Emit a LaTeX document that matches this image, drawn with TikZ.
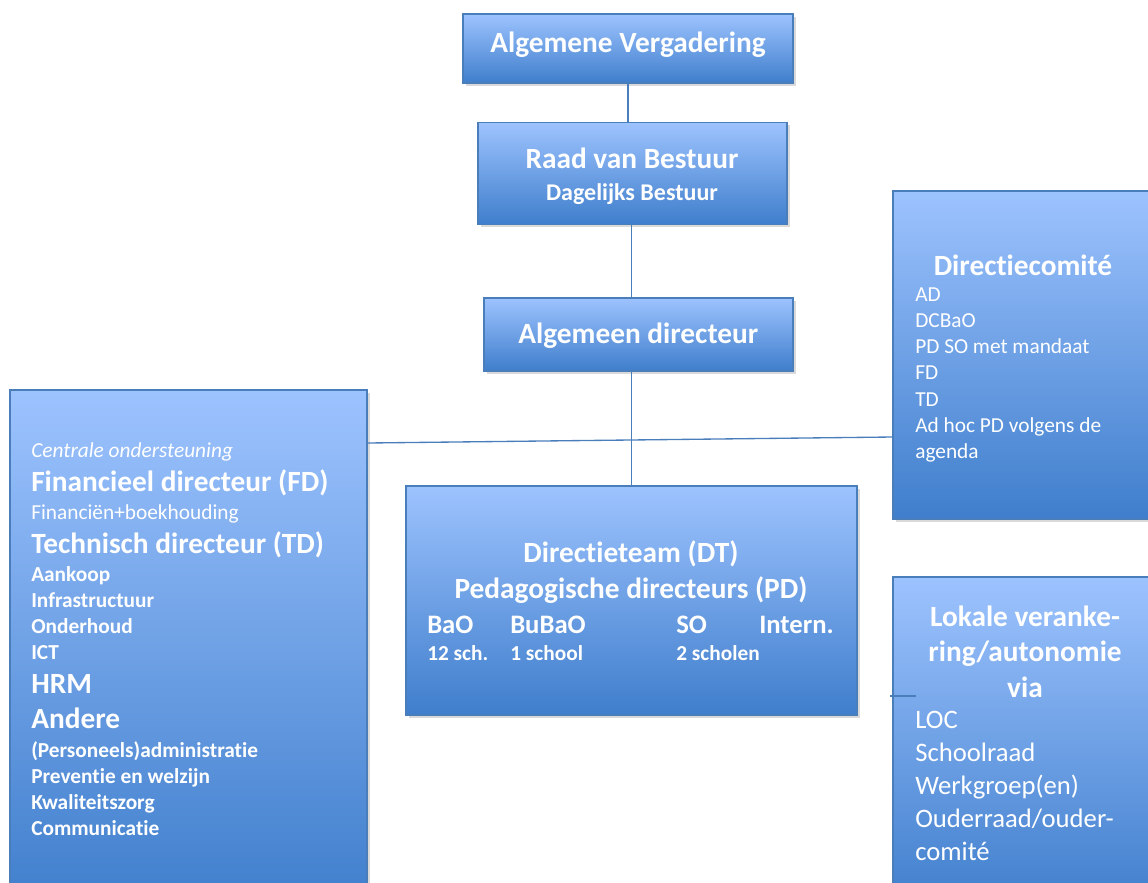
\documentclass[tikz,border=0pt]{standalone}
\usepackage{fontspec}
\setmainfont{Carlito}[Ligatures=NoCommon]
\usetikzlibrary{positioning,shadows}
\definecolor{boxtop}{HTML}{9DC3FE}
\definecolor{boxbot}{HTML}{3F7ECC}
\definecolor{boxline}{HTML}{4A7EBB}
\tikzset{
  orgbox/.style 2 args={draw=boxline, line width=0.8pt, top color=boxtop, bottom color=boxbot,
    minimum width=#1*0.75pt, minimum height=#2*0.75pt, inner sep=0pt,
    drop shadow={shadow xshift=2pt, shadow yshift=-2pt, opacity=0.3}},
  link/.style={draw=boxline, line width=1pt},
  big/.style={text=white, inner sep=0pt, font=\bfseries\fontsize{22}{26}\selectfont},
  mid/.style={text=white, inner sep=0pt, font=\bfseries\fontsize{20}{24}\selectfont},
  sub/.style={text=white, inner sep=0pt, font=\bfseries\fontsize{16}{19}\selectfont},
  subb/.style={text=white, inner sep=0pt, font=\bfseries\fontsize{18}{22}\selectfont},
  txt/.style={text=white, inner sep=0pt, font=\fontsize{16}{19}\selectfont},
  ital/.style={text=white, inner sep=0pt, font=\itshape\fontsize{16}{19}\selectfont},
  item/.style={text=white, inner sep=0pt, font=\fontsize{20}{24}\selectfont}
}
\begin{document}
\begin{tikzpicture}[x=0.75pt, y=-0.75pt]
    \clip (0,0) rectangle (1148,882);

    % Boxes
    \node[orgbox={330}{69}] (av) at (628,48.5) {};
    \node[orgbox={309}{102}] (rvb) at (632.5,173.5) {};
    \node[orgbox={309}{73}] (ad) at (638.5,334.5) {};
    \node[orgbox={357}{520}] (co) at (188.5,650) {};
    \node[orgbox={451}{229}] (dt) at (631.5,600.5) {};
    \node[orgbox={270}{328}] (dc) at (1028,355) {};
    \node[orgbox={270}{333}] (lv) at (1028,743.5) {};

    % Connectors
    \draw[link] (av.south) -- (av.south |- rvb.north);
    \draw[link] (dt.north |- rvb.south) -- (dt.north |- ad.north);
    \draw[link] (dt.north |- ad.south) -- (dt.north);
    \draw[link] (co.east |- 0,443) -- (dc.west |- 0,437);
    \coordinate (stub) at (890,696);
    \draw[link] (stub) -- ++(26,0);

    % Top of the chart
    \node[big, anchor=base] (avt) at (628,52.7) {Algemene Vergadering};
    \node[big, anchor=base] (rvbt) at (632,168.3) {Raad van Bestuur};
    \node[subb, anchor=base] (dbt) at (632,200) {Dagelijks Bestuur};
    \node[big, anchor=base] (adt) at (638.3,343.3) {Algemeen directeur};

    % Central support
    \foreach \y/\s/\t [count=\i] in {457/ital/Centrale ondersteuning, 491/big/Financieel directeur (FD),
        519/txt/Financiën+boekhouding, 553/big/Technisch directeur (TD), 581/sub/Aankoop,
        607/sub/Infrastructuur, 633/sub/Onderhoud, 659/sub/ICT, 693/big/HRM, 728/big/Andere,
        757/sub/(Personeels)administratie, 783/sub/Preventie en welzijn, 809/sub/Kwaliteitszorg,
        835/sub/Communicatie}
        \node[\s, anchor=base west] (co\i) at (31,\y) {\t};

    % Directieteam
    \node[big, anchor=base] (dtt1) at (631,562.7) {Directieteam (DT)};
    \node[big, anchor=base] (dtt2) at (631,598.3) {Pedagogische directeurs (PD)};
    \foreach \x/\a/\b [count=\i] in {427/BaO/12 sch., 510/BuBaO/1 school, 676/SO/2 scholen, 759/Intern./} {
        \node[mid, anchor=base west] (dta\i) at (\x,633.3) {\a};
        \node[sub, anchor=base west] (dtb\i) at (\x,660) {\b};
    }

    % Directiecomite
    \node[big, anchor=base] (dct) at (1023,275) {Directiecomité};
    \foreach \t [count=\i] in {AD, DCBaO, PD SO met mandaat, FD, TD, Ad hoc PD volgens de, agenda}
        \node[txt, anchor=base west] (dc\i) at (915,{275+26.2*\i}) {\t};

    % Lokale verankering
    \foreach \t [count=\i] in {Lokale veranke-, ring/autonomie, via}
        \node[big, anchor=base] (lvt\i) at (1025,{590.5+35.5*\i}) {\t};
    \foreach \t [count=\i] in {LOC, Schoolraad, Werkgroep(en), Ouderraad/ouder-, comité}
        \node[item, anchor=base west] (lvi\i) at (915,{696+32.8*\i}) {\t};
\end{tikzpicture}
\end{document}
